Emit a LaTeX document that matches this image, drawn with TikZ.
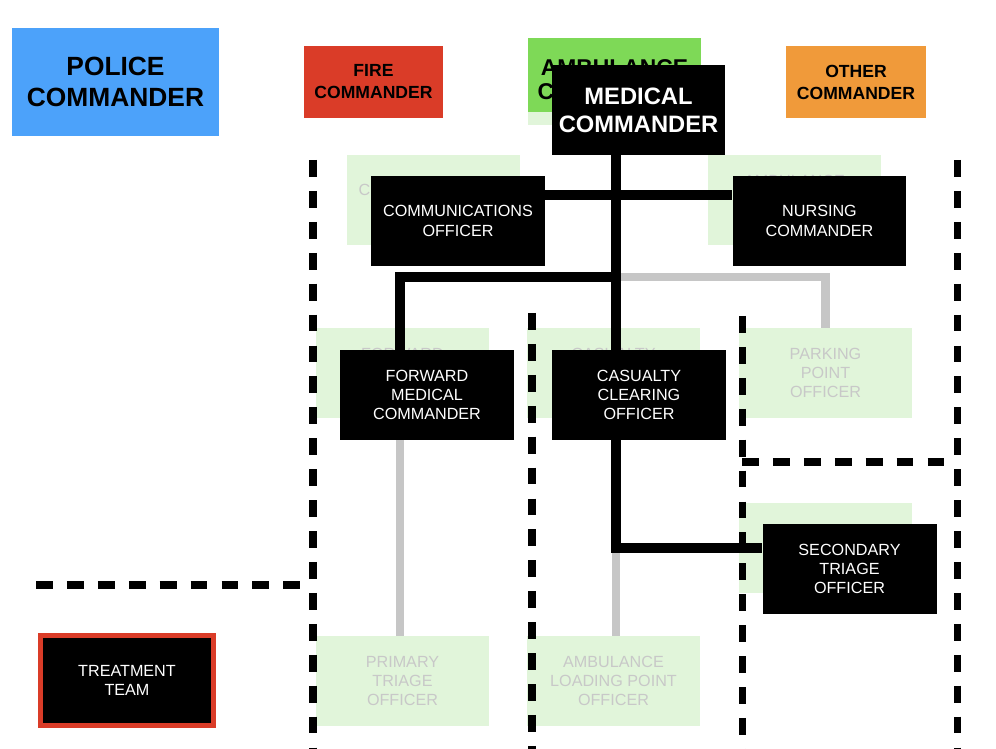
\documentclass[tikz,border=0pt]{standalone}
\usepackage{fontspec}
\setmainfont{Liberation Sans}
\definecolor{policeblue}{HTML}{4CA2FA}
\definecolor{firered}{HTML}{DA3C28}
\definecolor{ambgreen}{HTML}{7ED957}
\definecolor{otherorange}{HTML}{F09A3A}
\definecolor{palegreen}{HTML}{E1F5DA}
\definecolor{ghosttext}{HTML}{C8C8C8}
\definecolor{greyline}{HTML}{C6C6C6}
\begin{document}
\begin{tikzpicture}[x=0.02cm, y=-0.02cm,
  officer/.style={fill=black, text=white, align=center, inner sep=0pt, minimum width=3.48cm, minimum height=1.8cm, font=\fontsize{9.2}{11}\selectfont},
  ghost/.style={fill=palegreen, text=ghosttext, align=center, inner sep=0pt, minimum width=3.46cm, minimum height=1.8cm, font=\fontsize{9.2}{11}\selectfont},
  chief/.style={align=center, inner sep=0pt, font=\bfseries\fontsize{10}{12.5}\selectfont},
  solidlink/.style={line width=5.7pt},
  greylink/.style={line width=5.1pt, draw=greyline},
  zone/.style={line width=4pt, dash pattern=on 9.6pt off 8pt}]
\useasboundingbox (0,0) rectangle (996,749);
% faded boxes behind the active ones
\node[ghost, minimum height=1.7cm] (ambghost) at (614.5, 82.5) {};
\node[ghost] (commsghost) at (433.5, 200) {COMMUNICATIONS\\OFFICER};
\node[ghost] (nursingghost) at (794.5, 200) {};
\node[text=ghosttext, font=\fontsize{9.2}{11}\selectfont] (nursingword) at (794.5, 181) {AMBULANCE};
\node[ghost] (forwardghost) at (402.5, 373) {FORWARD\\MEDICAL\\COMMANDER};
\node[ghost] (casualtyghost) at (613.5, 373) {CASUALTY\\CLEARING\\OFFICER};
\node[ghost] (parking) at (825.5, 373) {PARKING\\POINT\\OFFICER};
\node[ghost] (secondaryghost) at (825.5, 548) {};
\node[ghost] (primary) at (402.5, 681) {PRIMARY\\TRIAGE\\OFFICER};
\node[ghost] (loading) at (613.5, 681) {AMBULANCE\\LOADING POINT\\OFFICER};
% commanders
\node[chief, fill=policeblue, minimum width=4.14cm, minimum height=2.16cm, font=\bfseries\fontsize{15}{18}\selectfont] (police) at (115.5, 82) {POLICE\\COMMANDER};
\node[chief, fill=firered, minimum width=2.78cm, minimum height=1.44cm] (fire) at (373.5, 82) {FIRE\\COMMANDER};
\node[chief, fill=ambgreen, minimum width=3.46cm, minimum height=1.5cm] (ambulance) at (614.5, 75) {};
\node[chief, font=\bfseries\fontsize{13}{14}\selectfont] (ambword) at (614.5, 79.5) {AMBULANCE\\COMMANDER};
\node[chief, fill=otherorange, minimum width=2.8cm, minimum height=1.44cm] (other) at (856, 82) {OTHER\\COMMANDER};
\node[chief, fill=black, text=white, minimum width=3.46cm, minimum height=1.8cm, font=\bfseries\fontsize{13.5}{15.9}\selectfont] (medical) at (638.5, 110) {MEDICAL\\COMMANDER};
% sector boundaries
\draw[zone] (313, 160) -- (313, 749);
\draw[zone] (532, 313) -- (532, 749);
\draw[zone] (742, 316) -- (742, 749);
\draw[zone] (957, 160) -- (957, 749);
\draw[zone] (742, 462) -- (957, 462);
\draw[zone] (36, 585) -- (305, 585);
% active officers
\node[officer] (comms) at (458, 221) {COMMUNICATIONS\\OFFICER};
\node[officer] (nursing) at (819.5, 221) {NURSING\\COMMANDER};
\node[officer] (forward) at (427, 395) {FORWARD\\MEDICAL\\COMMANDER};
\node[officer] (casualty) at (639, 395) {CASUALTY\\CLEARING\\OFFICER};
\node[officer] (secondary) at (849.5, 569) {SECONDARY\\TRIAGE\\OFFICER};
\node[officer, minimum width=3.46cm, draw=firered, line width=2.8pt] (treatment) at (127, 680.5) {TREATMENT\\TEAM};
\coordinate (trunk) at (616, 277);
\coordinate (fwdtop) at (400, 277);
\coordinate (bridge) at (616, 195);
\coordinate (sec) at (616, 548);
% inactive links first, active links on top
\draw[greylink] (trunk) -| (parking.north);
\draw[greylink] (forward.south -| fwdtop) -- (primary.north -| fwdtop);
\draw[greylink] (sec) -- (sec |- loading.north);
\draw[solidlink] (trunk |- medical.south) -- (trunk |- casualty.north);
\draw[solidlink] (comms.east |- bridge) -- (nursing.west |- bridge);
\draw[solidlink] (trunk) -- (fwdtop) -- (fwdtop |- forward.north);
\draw[solidlink] (trunk |- casualty.south) -- (sec) -- (sec -| secondary.west);
\end{tikzpicture}
\end{document}
